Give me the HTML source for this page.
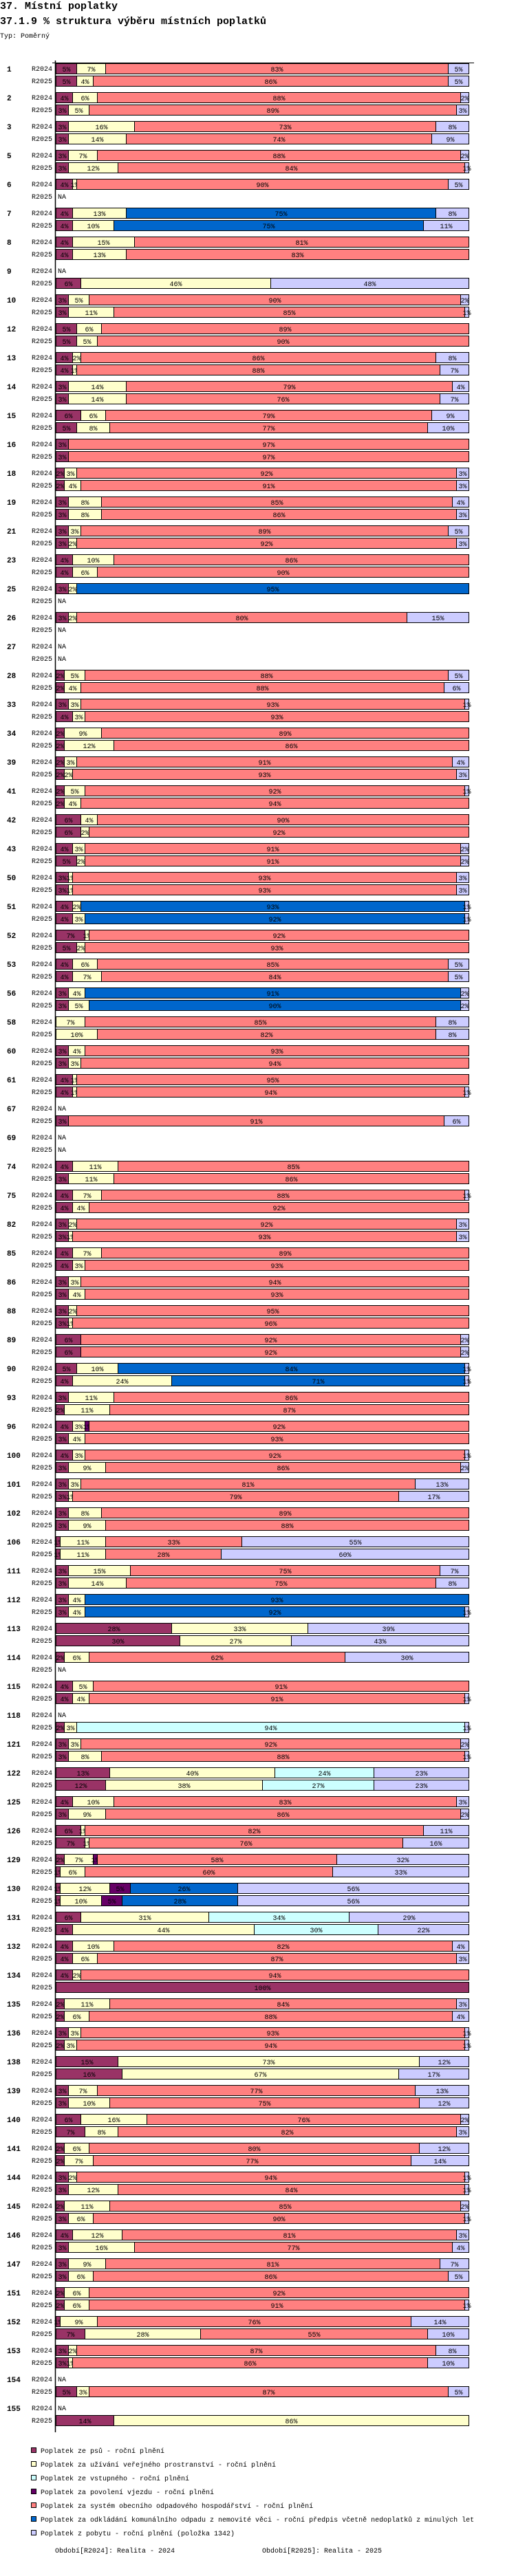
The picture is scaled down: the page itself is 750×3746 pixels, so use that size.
<!DOCTYPE html>
<html><head><meta charset="utf-8"><style>
html,body{margin:0;padding:0;background:#fff;}
svg{display:block;}
text{font-family:"Liberation Mono",monospace;}
</style></head><body>
<svg id="chart" width="750" height="3746" viewBox="0 0 750 3746" xmlns="http://www.w3.org/2000/svg">
<text x="0" y="13" font-size="15" font-weight="bold">37. Místní poplatky</text>
<text x="0" y="35" font-size="15" font-weight="bold">37.1.9 % struktura výběru místních poplatků</text>
<text x="0" y="55" font-size="10">Typ: Poměrný</text>
<g id="plot"></g>
<line x1="80.5" y1="88" x2="80.5" y2="3537" stroke="#000" stroke-width="1.5"/>
<line x1="76" y1="91.5" x2="689" y2="91.5" stroke="#000" stroke-width="1"/>
<g id="legend"></g>
<text x="80" y="3712" font-size="10">Období[R2024]: Realita - 2024</text>
<text x="381" y="3712" font-size="10">Období[R2025]: Realita - 2025</text>
</svg>
<script>
const N = null;
const categories = [1,2,3,5,6,7,8,9,10,12,13,14,15,16,18,19,21,23,25,26,27,28,33,34,39,41,42,43,50,51,52,53,56,58,60,61,67,69,74,75,82,85,86,88,89,90,93,96,100,101,102,106,111,112,113,114,115,118,121,122,125,126,129,130,131,132,134,135,136,138,139,140,141,144,145,146,147,151,152,153,154,155];
const periods = ["R2024","R2025"];
const seriesNames = ["Poplatek ze psů - roční plnění","Poplatek za užívání veřejného prostranství - roční plnění","Poplatek ze vstupného - roční plnění","Poplatek za povolení vjezdu - roční plnění","Poplatek za systém obecního odpadového hospodářství - roční plnění","Poplatek za odkládání komunálního odpadu z nemovité věci - roční předpis včetně nedoplatků z minulých let","Poplatek z pobytu - roční plnění (položka 1342)"];
const seriesColors = ["#993366","#FFFFCC","#CCFFFF","#660066","#FF8080","#0066CC","#CCCCFF"];
// 2024
const psy24 = [5,4,3,3,4,4,4,N,3,5, 4,3,6,3,2,3,3,4,3,3, N,2,3,2,2,2,6,4,3,4, 7,4,3,0,3,4,N,N,4,4, 3,4,3,3,6,5,3,4,4,3, 3,1,3,3,28,2,4,N,3,13, 4,6,2,1,6,4,4,2,3,15, 3,6,2,3,2,4,3,2,1,3, N,N];
const uziv24 = [7,6,16,7,1,13,15,N,5,6, 2,14,6,0,3,8,3,10,2,2, N,5,3,9,3,5,4,3,1,2, 1,6,4,7,4,1,N,N,11,7, 2,7,3,2,0,10,11,3,3,3, 8,11,15,4,33,6,5,N,3,40, 10,1,7,12,31,10,2,11,3,73, 7,16,6,2,11,12,9,6,9,2, N,N];
const vstup24 = [0,0,0,0,0,0,0,0,0,0, 0,0,0,0,0,0,0,0,0,0, 0,0,0,0,0,0,0,0,0,0, 0,0,0,0,0,0,0,0,0,0, 0,0,0,0,0,0,0,0,0,0, 0,0,0,0,0,0,0,0,0,24, 0,0,0,0,34,0,0,0,0,0, 0,0,0,0,0,0,0,0,0,0, 0,0];
const vjezd24 = [0,0,0,0,0,0,0,0,0,0, 0,0,0,0,0,0,0,0,0,0, 0,0,0,0,0,0,0,0,0,0, 0,0,0,0,0,0,0,0,0,0, 0,0,0,0,0,0,0,1,0,0, 0,0,0,0,0,0,0,0,0,0, 0,0,1,5,0,0,0,0,0,0, 0,0,0,0,0,0,0,0,0,0, 0,0];
const odpad24 = [83,88,73,88,90,0,81,N,90,89, 86,79,79,97,92,85,89,86,0,80, N,88,93,89,91,92,90,91,93,0, 92,85,0,85,93,95,N,N,85,88, 92,89,94,95,92,0,86,92,92,81, 89,33,75,0,0,62,91,N,92,0, 83,82,58,0,0,82,94,84,93,0, 77,76,80,94,85,81,81,92,76,87, N,N];
const odkl24 = [0,0,0,0,0,75,0,0,0,0, 0,0,0,0,0,0,0,0,95,0, 0,0,0,0,0,0,0,0,0,93, 0,0,91,0,0,0,0,0,0,0, 0,0,0,0,0,84,0,0,0,0, 0,0,0,93,0,0,0,0,0,0, 0,0,0,26,0,0,0,0,0,0, 0,0,0,0,0,0,0,0,0,0, 0,0];
const pobyt24 = [5,2,8,2,5,8,0,N,2,0, 8,4,9,0,3,4,5,0,0,15, N,5,1,0,4,1,0,2,3,1, 0,5,2,8,0,0,N,N,0,1, 3,0,0,0,2,1,0,0,1,13, 0,55,7,0,39,30,0,N,2,23, 3,11,32,56,29,4,0,3,1,12, 13,2,12,1,2,3,7,0,14,8, N,N];
// 2025
const psy25 = [5,3,3,3,N,4,4,6,3,5, 4,3,5,3,2,3,3,4,N,N, N,2,4,2,2,2,6,5,3,4, 5,4,3,0,3,4,3,N,3,4, 3,4,3,3,6,4,2,3,3,3, 3,1,3,3,30,N,4,2,3,12, 3,7,1,1,4,4,100,2,2,16, 3,7,2,3,3,3,3,2,7,3, 5,14];
const uziv25 = [4,5,14,12,N,10,13,46,11,5, 1,14,8,0,4,8,2,6,N,N, N,4,3,12,2,4,2,2,1,3, 2,7,5,10,3,1,0,N,11,4, 1,3,4,1,0,24,11,4,9,1, 9,11,14,4,27,N,4,3,8,38, 9,1,6,10,44,6,0,6,3,67, 10,8,7,12,6,16,6,6,28,1, 3,86];
const vstup25 = [0,0,0,0,0,0,0,0,0,0, 0,0,0,0,0,0,0,0,0,0, 0,0,0,0,0,0,0,0,0,0, 0,0,0,0,0,0,0,0,0,0, 0,0,0,0,0,0,0,0,0,0, 0,0,0,0,0,0,0,94,0,27, 0,0,0,0,30,0,0,0,0,0, 0,0,0,0,0,0,0,0,0,0, 0,0];
const vjezd25 = [0,0,0,0,0,0,0,0,0,0, 0,0,0,0,0,0,0,0,0,0, 0,0,0,0,0,0,0,0,0,0, 0,0,0,0,0,0,0,0,0,0, 0,0,0,0,0,0,0,0,0,0, 0,0,0,0,0,0,0,0,0,0, 0,0,0,5,0,0,0,0,0,0, 0,0,0,0,0,0,0,0,0,0, 0,0];
const odpad25 = [86,89,74,84,N,0,83,0,85,90, 88,76,77,97,91,86,92,90,N,N, N,88,93,86,93,94,92,91,93,0, 93,84,0,82,94,94,91,N,86,92, 93,93,93,96,92,0,87,93,86,79, 88,28,75,0,0,N,91,0,88,0, 86,76,60,0,0,87,0,88,94,0, 75,82,77,84,90,77,86,91,55,86, 87,0];
const odkl25 = [0,0,0,0,0,75,0,0,0,0, 0,0,0,0,0,0,0,0,0,0, 0,0,0,0,0,0,0,0,0,92, 0,0,90,0,0,0,0,0,0,0, 0,0,0,0,0,71,0,0,0,0, 0,0,0,92,0,0,0,0,0,0, 0,0,0,28,0,0,0,0,0,0, 0,0,0,0,0,0,0,0,0,0, 0,0];
const pobyt25 = [5,3,9,1,N,11,0,48,1,0, 7,7,10,0,3,3,3,0,N,N, N,6,0,0,3,0,0,2,3,1, 0,5,2,8,0,1,6,N,0,0, 3,0,0,0,2,1,0,0,2,17, 0,60,8,1,43,N,1,1,1,23, 2,16,33,56,22,3,0,4,1,17, 12,3,14,1,1,4,5,1,10,10, 5,0];

const series24 = [psy24,uziv24,vstup24,vjezd24,odpad24,odkl24,pobyt24];
const series25 = [psy25,uziv25,vstup25,vjezd25,odpad25,odkl25,pobyt25];

const NS = "http://www.w3.org/2000/svg";
const X0 = 81, W = 600, TOP = 92, GROUP = 42, ROW = 18, BH = 15;
function xScale(frac){ return X0 + frac * W; }
function yGroup(i){ return TOP + i * GROUP; }
function mk(tag, attrs){ const e = document.createElementNS(NS, tag); for (const k in attrs) e.setAttribute(k, attrs[k]); return e; }

const plot = document.getElementById('plot');
categories.forEach((cat, gi) => {
  const gy = yGroup(gi);
  const lab = mk('text', {x: 10, y: gy + 12, 'font-size': 11, 'font-weight': 'bold'});
  
  
  lab.textContent = cat;
  plot.appendChild(lab);
  [series24, series25].forEach((ser, pi) => {
    const y = gy + pi * ROW;
    const pl = mk('text', {x: 76, y: y + 11, 'font-size': 10, 'text-anchor': 'end'});
    
    
    pl.textContent = periods[pi];
    plot.appendChild(pl);
    if (ser[0][gi] === null) {
      const na = mk('text', {x: 84, y: y + 11, 'font-size': 10});
      
      
      na.textContent = 'NA';
      plot.appendChild(na);
      return;
    }
    const vals = ser.map(s => s[gi] || 0);
    const total = vals.reduce((a, b) => a + b, 0) || 1;
    let cum = 0;
    vals.forEach((v, si) => {
      if (v <= 0) return;
      const x1 = xScale(cum / total), x2 = xScale((cum + v) / total);
      cum += v;
      const r = mk('rect', {x: x1 + 0.5, y: y + 0.5, width: Math.max(x2 - x1, 1), height: BH, fill: seriesColors[si], stroke: '#000', 'stroke-width': 1});
      
      
      plot.appendChild(r);
      const t = mk('text', {x: (x1 + x2) / 2 + 0.5, y: y + 12, 'font-size': 10, 'text-anchor': 'middle', fill: '#000'});
      
      
      t.textContent = v + '%';
      plot.appendChild(t);
    });
  });
});

const legend = document.getElementById('legend');
seriesNames.forEach((name, i) => {
  const y = 3563 + i * 20;
  const sq = mk('rect', {x: 45.5, y: y - 3.5, width: 7, height: 7, fill: seriesColors[i], stroke: '#000', 'stroke-width': 1});
  
  
  legend.appendChild(sq);
  const t = mk('text', {x: 59, y: y + 4, 'font-size': 10});
  
  
  t.textContent = name;
  legend.appendChild(t);
});
</script>
</body></html>
